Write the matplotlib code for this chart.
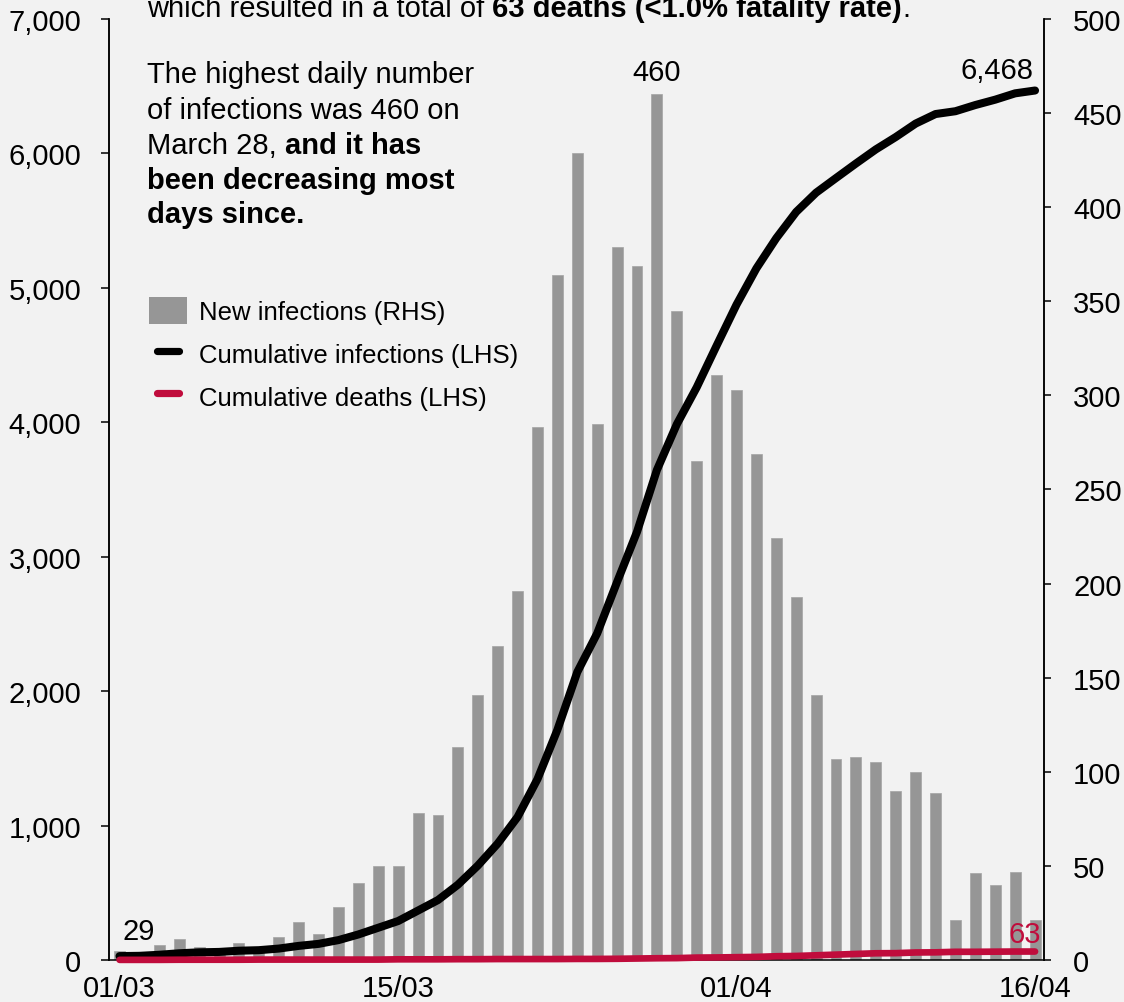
import matplotlib

matplotlib.use("Agg")
import matplotlib.pyplot as plt
import numpy as np
from matplotlib.lines import Line2D
from matplotlib.patches import Patch
from matplotlib.ticker import FuncFormatter, MultipleLocator

# daily series, 01/03 .. 16/04
new_cases = [5, 2, 8, 11, 7, 3, 9, 4, 12, 20,
             14, 28, 41, 50, 50, 78, 77, 113, 141, 167,
             196, 283, 364, 429, 285, 379, 369, 460, 345, 265,
             311, 303, 269, 224, 193, 141, 107, 108, 105, 90,
             100, 89, 21, 46, 40, 47, 21]
cum_cases = [29, 31, 39, 50, 57, 60, 69, 73, 85, 105,
             120, 148, 190, 240, 290, 368, 446, 560, 702, 866,
             1064, 1346, 1712, 2142, 2430, 2812, 3185, 3645, 3985, 4260,
             4570, 4875, 5145, 5370, 5565, 5708, 5817, 5925, 6030, 6122,
             6222, 6293, 6314, 6360, 6400, 6447, 6468]
cum_deaths = [1, 1, 1, 2, 2, 2, 2, 3, 3, 3,
              3, 3, 3, 3, 5, 5, 5, 6, 6, 7,
              7, 7, 7, 8, 8, 9, 11, 13, 14, 18,
              19, 21, 23, 28, 30, 35, 40, 45, 50, 51,
              56, 57, 61, 61, 62, 63, 63]
xtick_days = [0, 14, 31, 46]
xtick_labels = ["01/03", "15/03", "01/04", "16/04"]
peak_day = 27

W, H = 1124, 1003
BG = "#f2f2f2"
BAR = "#969696"
RED = "#c00c3c"
FS = 21

plt.rcParams["font.family"] = ["Liberation Sans", "DejaVu Sans"]
plt.rcParams["font.size"] = FS

days = np.arange(len(new_cases))

fig = plt.figure(figsize=(W / 100, H / 100), dpi=100, facecolor=BG)
ax = fig.add_axes([109 / W, 1 - 961 / H, (1044 - 109) / W, (961 - 20) / H])
ax.set_facecolor(BG)

# bars on the right-hand scale
ax.bar(days, new_cases, width=0.55, color=BAR, edgecolor="#a4a4a4", linewidth=0.5, zorder=2)
ax.set_xlim(-0.53, 46.45)
ax.set_ylim(0, 500)
ax.yaxis.set_major_locator(MultipleLocator(50))

# cumulative lines on the left-hand scale
ax2 = ax.twinx()
ax.yaxis.tick_right()
ax2.yaxis.tick_left()
ax2.set_ylim(0, 7000)
ax2.yaxis.set_major_locator(MultipleLocator(1000))
ax2.yaxis.set_major_formatter(FuncFormatter(lambda v, _: f"{v:,.0f}"))
ax2.plot(days, cum_cases, color="black", lw=5.8, solid_capstyle="round",
         solid_joinstyle="round", clip_on=False, zorder=3)
ax2.plot(days, cum_deaths, color=RED, lw=4.8, solid_capstyle="round",
         solid_joinstyle="round", clip_on=False, zorder=3)

ax.set_xticks(xtick_days)
ax.set_xticklabels(xtick_labels)
ax.tick_params(axis="x", length=0, pad=10, labelsize=FS)
ax.tick_params(axis="y", direction="out", length=5, width=1.1, pad=16, labelsize=FS)
ax2.tick_params(axis="y", direction="out", length=6, width=1.1, pad=14, labelsize=FS)

for a in (ax, ax2):
    a.spines["top"].set_visible(False)
    for side in ("left", "right", "bottom"):
        a.spines[side].set_linewidth(1.1)
        a.spines[side].set_color("black")
ax2.spines["bottom"].set_visible(False)

# value labels
ax.annotate(f"{new_cases[peak_day]}", xy=(peak_day, new_cases[peak_day]),
            xytext=(0, 10), textcoords="offset points", ha="center", va="baseline")
ax2.annotate(f"{cum_cases[-1]:,}", xy=(days[-1], cum_cases[-1]),
             xytext=(-1, 9), textcoords="offset points", ha="right", va="baseline")
ax2.annotate(f"{cum_cases[0]}", xy=(days[0], cum_cases[0]),
             xytext=(2, 12), textcoords="offset points", ha="left", va="baseline")
ax2.annotate(f"{cum_deaths[-1]}", xy=(days[-1], cum_deaths[-1]),
             xytext=(4, 7), textcoords="offset points", ha="right", va="baseline",
             color=RED)

# legend
handles = [
    Patch(facecolor=BAR, edgecolor="none"),
    Line2D([], [], color="black", lw=5.2, solid_capstyle="round"),
    Line2D([], [], color=RED, lw=5.2, solid_capstyle="round"),
]
labels = ["New infections (RHS)", "Cumulative infections (LHS)", "Cumulative deaths (LHS)"]
fig.legend(handles, labels, loc="upper left", bbox_to_anchor=(149 / W, 1 - 298 / H),
           frameon=False, fontsize=18.5, handlelength=1.48, handleheight=1.25,
           handletextpad=0.47, labelspacing=0.6, borderpad=0, borderaxespad=0,
           numpoints=2)

# commentary text, built from plain and bold pieces
SPACE = 0.278 * FS


def rich_line(x, y, parts):
    prev = fig.text(x / W, 1 - y / H, parts[0][0], fontsize=FS,
                    fontweight=parts[0][1], va="baseline", ha="left")
    for text, weight, gap in parts[1:]:
        prev = ax.annotate(text, xy=(1, 0), xycoords=prev, xytext=(gap, 0),
                           textcoords="offset points", va="bottom", ha="left",
                           fontsize=FS, fontweight=weight, annotation_clip=False)
    return prev


rich_line(147, 17, [("which resulted in a total of", "normal"),
                    ("63 deaths (<1.0% fatality rate)", "bold", SPACE),
                    (".", "normal", 0)])
rich_line(147, 83, [("The highest daily number", "normal")])
rich_line(147, 119, [("of infections was 460 on", "normal")])
rich_line(147, 154, [("March 28,", "normal"), ("and it has", "bold", SPACE)])
rich_line(147, 189, [("been decreasing most", "bold")])
rich_line(147, 223, [("days since.", "bold")])

fig.savefig("out.png", dpi=100, facecolor=BG)
